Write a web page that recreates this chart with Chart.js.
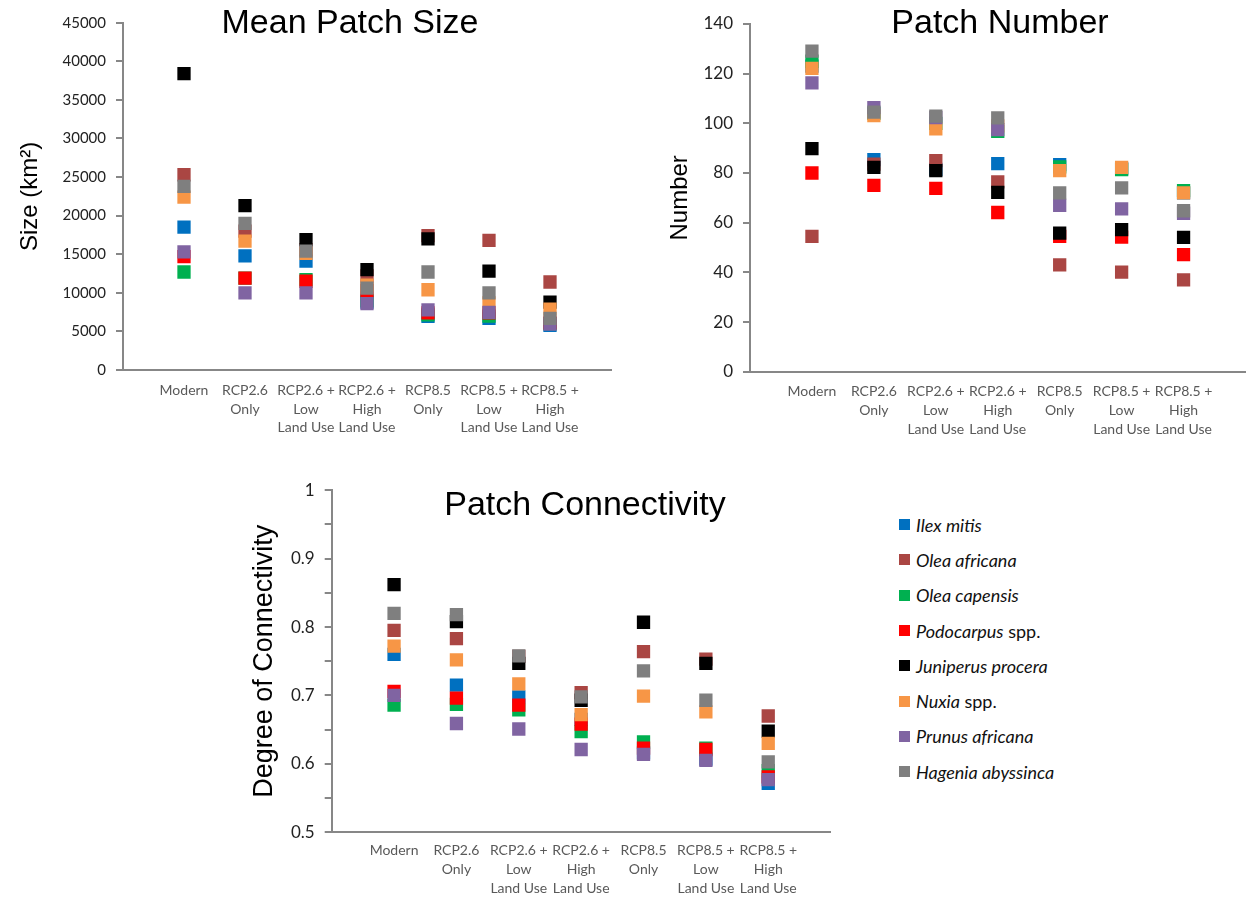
<!DOCTYPE html>
<html>
<head>
<meta charset="utf-8">
<script src="https://cdn.jsdelivr.net/npm/chart.js@4.4.1/dist/chart.umd.min.js"></script>
<style>
  html, body { margin: 0; padding: 0; background: #fff; }
  body { position: relative; width: 1256px; height: 901px; overflow: hidden; font-family: 'Liberation Sans', Arial, sans-serif; }
  .box { position: absolute; }
  .title { position: absolute; font-size: 34px; line-height: 34px; color: #000; white-space: nowrap; transform: translateX(-50%); }
  #legend { position: absolute; left: 899px; top: 507px; font-family: Lato, sans-serif; font-size: 18px; color: #111; }
  #legend .row { height: 35.3px; display: flex; align-items: center; white-space: nowrap; }
  #legend .sw { width: 11px; height: 11px; margin-right: 6px; display: inline-block; }
  #legend i { font-style: italic; }
</style>
</head>
<body>
<div class="box" style="left:0;top:0;width:625px;height:445px"><canvas id="sizeChart"></canvas></div>
<div class="box" style="left:650px;top:0;width:606px;height:445px"><canvas id="numberChart"></canvas></div>
<div class="box" style="left:240px;top:470px;width:600px;height:431px"><canvas id="connChart"></canvas></div>
<div class="title" style="left:350px;top:4px">Mean Patch Size</div>
<div class="title" style="left:1000px;top:4px">Patch Number</div>
<div class="title" style="left:585px;top:486px">Patch Connectivity</div>
<div id="legend"></div>

<script>
// scenarios along the x axis (multi-line labels)
const scenarios = [
  ['Modern'],
  ['RCP2.6', 'Only'],
  ['RCP2.6 +', 'Low', 'Land Use'],
  ['RCP2.6 +', 'High', 'Land Use'],
  ['RCP8.5', 'Only'],
  ['RCP8.5 +', 'Low', 'Land Use'],
  ['RCP8.5 +', 'High', 'Land Use']
];

const species = ['Ilex mitis', 'Olea africana', 'Olea capensis', 'Podocarpus spp.',
  'Juniperus procera', 'Nuxia spp.', 'Prunus africana', 'Hagenia abyssinca'];
const colors = ['#0070C0', '#AA4643', '#00B050', '#FF0000', '#000000', '#F79646', '#8064A2', '#7F7F7F'];

// one row per species, one value per scenario
const meanPatchSize = [
  [18500, 14800, 14100, 8800, 6950, 6680, 5800],
  [25300, 18000, 15600, 12200, 17400, 16800, 11400],
  [12700, 11900, 11700, 9000, 7150, 6980, 6000],
  [14700, 11900, 11500, 10300, 7400, 7400, 6100],
  [38400, 21300, 16900, 13000, 17000, 12800, 8800],
  [22400, 16700, 15100, 11000, 10400, 8700, 7900],
  [15300, 10000, 10000, 8600, 7800, 7460, 5950],
  [23800, 19000, 15400, 10600, 12700, 10000, 6680]
];

const patchNumber = [
  [123, 85.4, 81.5, 83.8, 83.4, 81.8, 72],
  [54.5, 83.6, 85, 76.4, 43, 40.1, 37],
  [125, 104, 100, 96.8, 82.5, 81.4, 72.9],
  [80, 75, 73.8, 64.1, 54.5, 54.2, 47.1],
  [89.8, 82.3, 81, 72.2, 55.8, 57.2, 54.1],
  [122.1, 103.1, 97.8, 99, 81, 82.3, 72],
  [116.3, 106.3, 102.3, 97.5, 67, 65.6, 63.8],
  [129.1, 104.5, 102.9, 102.2, 72, 74, 64.8]
];

const connectivity = [
  [0.760, 0.715, 0.698, 0.665, 0.616, 0.607, 0.5715],
  [0.795, 0.783, 0.757, 0.704, 0.764, 0.753, 0.670],
  [0.686, 0.687, 0.679, 0.647, 0.632, 0.623, 0.590],
  [0.706, 0.696, 0.686, 0.658, 0.623, 0.621, 0.581],
  [0.862, 0.808, 0.747, 0.693, 0.807, 0.747, 0.648],
  [0.772, 0.752, 0.717, 0.672, 0.699, 0.676, 0.630],
  [0.700, 0.659, 0.651, 0.621, 0.614, 0.605, 0.577],
  [0.820, 0.818, 0.758, 0.698, 0.736, 0.693, 0.603]
];

const axisGray = '#878787';

function makeChart(id, values, cfg) {
  const datasets = species.map((name, i) => ({
    label: name,
    data: values[i].map((v, j) => ({ x: j + 1, y: v })),
    backgroundColor: colors[i],
    borderColor: colors[i],
    borderWidth: 0,
    pointStyle: 'rect',
    pointRadius: 9.4,
    pointHoverRadius: 9.4,
    order: species.length - i  // later species drawn on top
  }));

  return new Chart(document.getElementById(id), {
    type: 'scatter',
    data: { datasets },
    options: {
      responsive: true,
      maintainAspectRatio: false,
      animation: false,
      layout: { padding: cfg.padding },
      plugins: { legend: { display: false }, tooltip: { enabled: false } },
      scales: {
        x: {
          type: 'linear',
          min: 0,
          max: 8,
          grid: { display: false, drawTicks: false },
          border: { display: true, color: axisGray, width: 2 },
          ticks: {
            stepSize: 1,
            autoSkip: false,
            maxRotation: 0,
            minRotation: 0,
            padding: cfg.xPad,
            color: '#595959',
            font: { family: 'Lato', size: 14, lineHeight: 1.34 },
            callback: v => scenarios[v - 1] || ''
          },
          afterFit: s => { s.height = cfg.xHeight; }
        },
        y: {
          min: cfg.min,
          max: cfg.max,
          grid: { drawOnChartArea: false, drawTicks: true, tickLength: 7, color: axisGray, lineWidth: 2 },
          border: { display: true, color: axisGray, width: 2 },
          ticks: {
            stepSize: cfg.step,
            padding: 10,
            color: '#222',
            font: { family: 'Lato', size: cfg.tickSize },
            callback: cfg.tickLabel
          },
          title: {
            display: true,
            text: cfg.yTitle,
            color: '#000',
            font: { family: 'Liberation Sans', size: cfg.titleSize, lineHeight: 1.2 },
            padding: { top: cfg.titlePad, bottom: 0 }
          },
          afterFit: s => { s.width = cfg.yWidth; }
        }
      }
    }
  });
}

makeChart('sizeChart', meanPatchSize, {
  min: 0, max: 45000, step: 5000, tickSize: 15,
  tickLabel: v => String(v),
  yTitle: 'Size (km²)', titleSize: 24, titlePad: 15.6,
  yWidth: 123, xHeight: 75, xPad: 11,
  padding: { left: 0, right: 14, top: 22.7, bottom: 0 }
});

makeChart('numberChart', patchNumber, {
  min: 0, max: 140, step: 20, tickSize: 17,
  tickLabel: v => String(v),
  yTitle: 'Number', titleSize: 24, titlePad: 15.6,
  yWidth: 100, xHeight: 73.3, xPad: 10.5,
  padding: { left: 0, right: 0, top: 24, bottom: 0 }
});

makeChart('connChart', connectivity, {
  min: 0.5, max: 1, step: 0.05, tickSize: 17,
  tickLabel: v => (Math.round(v * 100) % 10 === 0 ? String(Math.round(v * 10) / 10) : ''),
  yTitle: 'Degree of Connectivity', titleSize: 27, titlePad: 8.8,
  yWidth: 91.7, xHeight: 68.7, xPad: 9,
  padding: { left: 0, right: 8, top: 15, bottom: 0 }
});

// legend: species names italic, "spp." upright
const legend = document.getElementById('legend');
species.forEach((name, i) => {
  const row = document.createElement('div');
  row.className = 'row';
  const genus = name.replace(/ spp\.$/, '');
  const spp = name.endsWith(' spp.') ? '&nbsp;spp.' : '';
  row.innerHTML = `<span class="sw" style="background:${colors[i]}"></span><i>${genus}</i>${spp}`;
  legend.appendChild(row);
});
</script>
</body>
</html>
